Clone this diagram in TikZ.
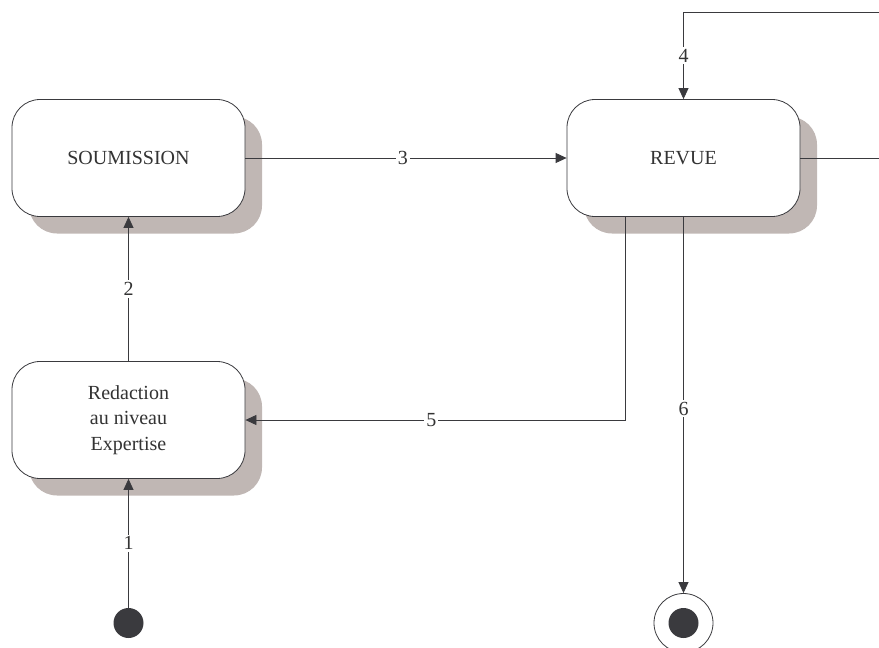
\documentclass[tikz,border=0pt]{standalone}
\usepackage{fontspec}
\setmainfont{Liberation Serif}
\usetikzlibrary{arrows.meta,shadows}
\definecolor{linec}{HTML}{3A3A3E}
\definecolor{textc}{HTML}{333333}
\definecolor{shadowc}{HTML}{C0B7B4}
\begin{document}
\begin{tikzpicture}[x=1pt,y=-1pt,
  state/.style={draw=linec, line width=0.8pt, fill=white, rounded corners=28pt,
    minimum width=233pt, minimum height=117pt, align=center,
    font=\fontsize{20}{25.5}\selectfont, text=textc,
    drop shadow={shadow xshift=17pt, shadow yshift=-17pt, fill=shadowc, opacity=1, draw=none}},
  conn/.style={draw=linec, line width=0.8pt},
  arr/.style={conn, -{Triangle[length=11pt,width=10pt]}},
  lbl/.style={fill=white, inner sep=2pt, font=\fontsize{20}{20}\selectfont, text=textc}]
\useasboundingbox (0,0) rectangle (879,648);
\node[state] (sou) at (128.5,158) {SOUMISSION};
\node[state] (rev) at (683.5,158) {REVUE};
\node[state] (red) at (128.5,420) {Redaction\\au niveau\\Expertise};
\node[circle, fill=linec, minimum size=30pt, inner sep=0pt] (start) at (128.5,623) {};
\node[circle, draw=linec, line width=0.8pt, minimum size=59pt, inner sep=0pt] (fin) at (683.5,623) {};
\node[circle, fill=linec, minimum size=30pt, inner sep=0pt] (fininner) at (fin.center) {};
\coordinate (topR) at (879,12);
\coordinate (topL) at (683.5,12);
\coordinate (midR) at (879,158);
\coordinate (c5a) at (625,216);
\coordinate (c5b) at (625,420);
% 1
\draw[arr] (start) -- node[lbl] {1} (red.south);
% 2
\draw[arr] (red.north) -- node[lbl] {2} (sou.south);
% 3
\draw[arr] (sou.east) -- node[lbl, pos=0.49] {3} (rev.west);
% 4
\draw[conn] (topR) -- (topL);
\draw[arr] (topL) -- node[lbl] {4} (rev.north);
% right out
\draw[conn] (rev.east) -- (midR);
% 5
\draw[arr] (c5a) -- (c5b) -- node[lbl, pos=0.51] {5} (red.east);
% 6
\draw[arr] (rev.south) -- node[lbl, pos=0.51] {6} (fin.north);
\end{tikzpicture}
\end{document}
